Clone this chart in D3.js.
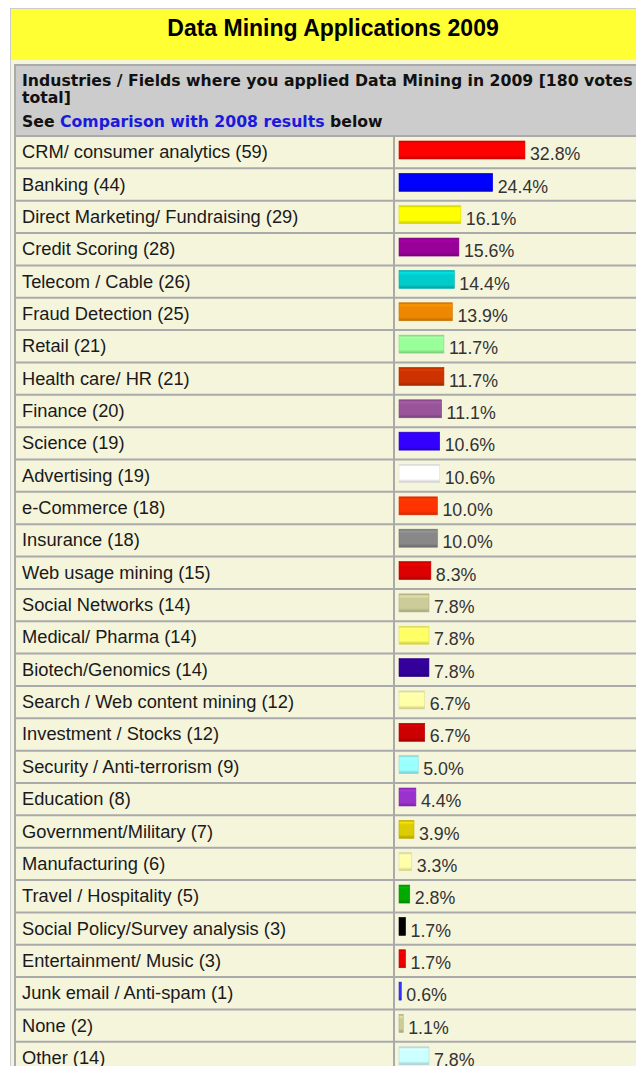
<!DOCTYPE html>
<html>
<head>
<meta charset="utf-8">
<script src="https://cdn.jsdelivr.net/npm/d3@7"></script>
<style>
  body { margin: 0; background: #fff; }
  svg { display: block; }
</style>
</head>
<body>
<svg id="chart"></svg>
<script>
// survey answers, 180 votes total
var labels = [
  "CRM/ consumer analytics", "Banking", "Direct Marketing/ Fundraising", "Credit Scoring",
  "Telecom / Cable", "Fraud Detection", "Retail", "Health care/ HR", "Finance", "Science",
  "Advertising", "e-Commerce", "Insurance", "Web usage mining", "Social Networks",
  "Medical/ Pharma", "Biotech/Genomics", "Search / Web content mining", "Investment / Stocks",
  "Security / Anti-terrorism", "Education", "Government/Military", "Manufacturing",
  "Travel / Hospitality", "Social Policy/Survey analysis", "Entertainment/ Music",
  "Junk email / Anti-spam", "None", "Other"
];
var votes = [59, 44, 29, 28, 26, 25, 21, 21, 20, 19, 19, 18, 18, 15, 14, 14, 14, 12, 12, 9, 8, 7, 6, 5, 3, 3, 1, 2, 14];
var percents = [32.8, 24.4, 16.1, 15.6, 14.4, 13.9, 11.7, 11.7, 11.1, 10.6, 10.6, 10.0, 10.0, 8.3, 7.8, 7.8, 7.8, 6.7, 6.7, 5.0, 4.4, 3.9, 3.3, 2.8, 1.7, 1.7, 0.6, 1.1, 7.8];
var barColors = [
  "#ff0000", "#0000ff", "#ffff00", "#990099", "#00cccc", "#ee8800", "#99ff99", "#cc3300",
  "#995599", "#3300ff", "#ffffff", "#ff3300", "#888888", "#dd0000", "#cccc99", "#ffff66",
  "#330099", "#ffffaa", "#cc0000", "#99ffff", "#9933cc", "#ddcc00", "#ffffaa", "#00aa00",
  "#000000", "#ee0000", "#3333ff", "#cccc99", "#ccffff"
];

var width = 636;
var height = 1066;
var rowTop = 136;
var rowH = 32.35;
var divX = 394;

var data = labels.map((l, i) => ({
  label: l + " (" + votes[i] + ")",
  pct: percents[i],
  color: barColors[i],
  i: i
}));

var svg = d3.select("#chart")
  .attr("width", width)
  .attr("height", height)
  .style("font-family", "'Liberation Sans', Arial, sans-serif");

// scales
var yScale = d3.scaleBand()
  .domain(d3.range(data.length))
  .range([rowTop, rowTop + rowH * data.length]);

var xScale = d3.scaleLinear()
  .domain([0, 100])
  .range([399, 399 + 384]);

// outer box + yellow title band
svg.append("rect")
  .attr("x", 10.5).attr("y", 8.5)
  .attr("width", width).attr("height", height)
  .attr("fill", "#f5f5dc")
  .attr("stroke", "#cccccc");

svg.append("rect")
  .attr("x", 11).attr("y", 9)
  .attr("width", width).attr("height", 51)
  .attr("fill", "#ffff33");

svg.append("text")
  .attr("x", 333).attr("y", 36)
  .attr("text-anchor", "middle")
  .attr("font-size", 23)
  .attr("font-weight", "bold")
  .attr("fill", "#000")
  .text("Data Mining Applications 2009");

// table frame
svg.append("rect")
  .attr("x", 15).attr("y", 65)
  .attr("width", width).attr("height", height)
  .attr("fill", "#f5f5dc")
  .attr("stroke", "#aaaaaa")
  .attr("stroke-width", 2);

// header cell
svg.append("rect")
  .attr("x", 16).attr("y", 66)
  .attr("width", width).attr("height", rowTop - 67)
  .attr("fill", "#cccccc");

var head = svg.append("g")
  .style("font-family", "'DejaVu Sans', Verdana, sans-serif")
  .attr("font-size", 15.7)
  .attr("font-weight", "bold")
  .attr("fill", "#111");

head.append("text").attr("x", 22).attr("y", 86)
  .text("Industries / Fields where you applied Data Mining in 2009 [180 votes");
head.append("text").attr("x", 22).attr("y", 103)
  .text("total]");
var see = head.append("text").attr("x", 22).attr("y", 127);
see.append("tspan").text("See ");
see.append("tspan").attr("fill", "#1a1adb").text("Comparison with 2008 results");
see.append("tspan").text(" below");

// rows
var row = svg.selectAll("g.row")
  .data(data)
  .enter()
  .append("g")
    .attr("class", "row")
    .attr("transform", d => "translate(0," + yScale(d.i) + ")");

row.append("line")
  .attr("x1", 15).attr("x2", width)
  .attr("y1", 0).attr("y2", 0)
  .attr("stroke", "#aaaaaa")
  .attr("stroke-width", 2);

row.append("text")
  .attr("x", 22)
  .attr("y", yScale.bandwidth() / 2 + 6)
  .attr("font-size", 18.3)
  .attr("fill", "#1a1a1a")
  .text(d => d.label);

// bar gradients for the bevelled look
var defs = svg.append("defs");
var grad = defs.selectAll("linearGradient")
  .data(data)
  .enter()
  .append("linearGradient")
    .attr("id", d => "g" + d.i)
    .attr("x1", 0).attr("x2", 0).attr("y1", 0).attr("y2", 1);

grad.append("stop").attr("offset", "0%").attr("stop-color", d => d3.color(d.color).darker(0.6));
grad.append("stop").attr("offset", "12%").attr("stop-color", d => d3.color(d.color).brighter(0.3));
grad.append("stop").attr("offset", "25%").attr("stop-color", d => d.color);
grad.append("stop").attr("offset", "80%").attr("stop-color", d => d.color);
grad.append("stop").attr("offset", "100%").attr("stop-color", d => d3.color(d.color).darker(0.7));

row.append("rect")
  .attr("x", xScale(0))
  .attr("y", 5)
  .attr("width", d => Math.max(1.5, xScale(d.pct) - xScale(0)))
  .attr("height", 18)
  .attr("fill", d => "url(#g" + d.i + ")")
  .attr("stroke", d => d3.color(d.color).darker(0.4))
  .attr("stroke-width", 0.6);

row.append("text")
  .attr("x", d => xScale(d.pct) + 5)
  .attr("y", yScale.bandwidth() / 2 + 8)
  .attr("font-size", 17.8)
  .attr("fill", "#333")
  .text(d => d.pct.toFixed(1) + "%");

// column divider
svg.append("line")
  .attr("x1", divX).attr("x2", divX)
  .attr("y1", rowTop).attr("y2", height)
  .attr("stroke", "#aaaaaa")
  .attr("stroke-width", 2);
</script>
</body>
</html>
